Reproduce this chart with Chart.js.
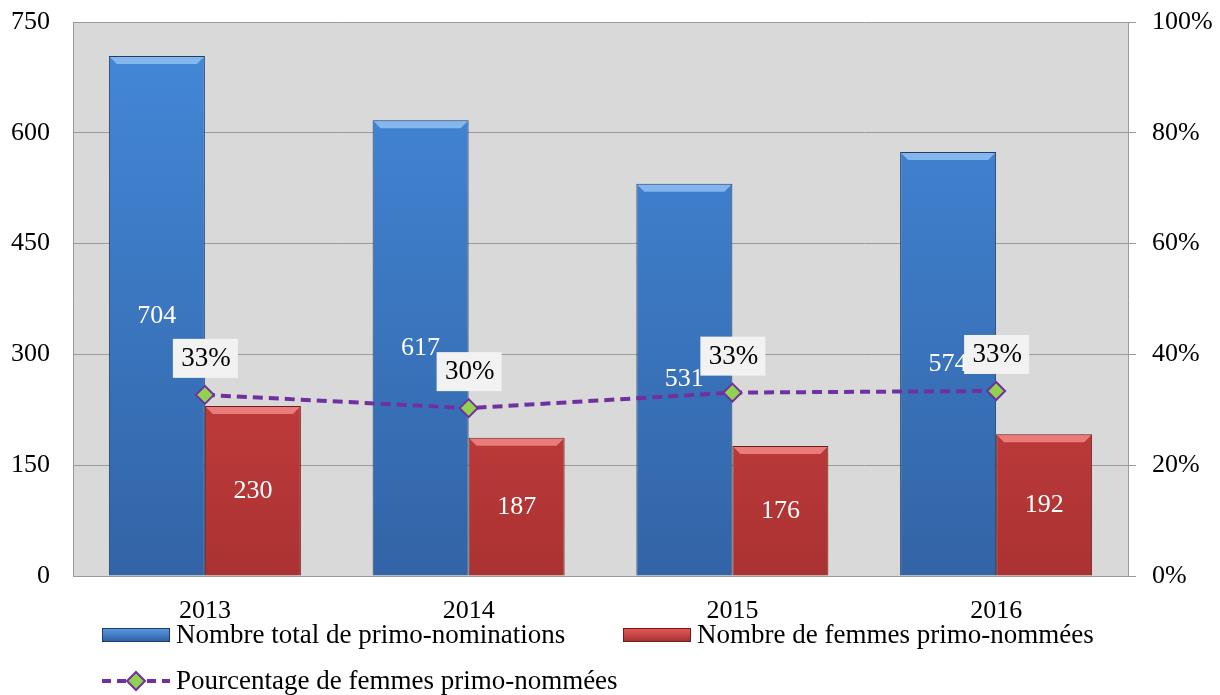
<!DOCTYPE html>
<html>
<head>
<meta charset="utf-8">
<script src="https://cdn.jsdelivr.net/npm/chart.js@4/dist/chart.umd.min.js"></script>
<style>
  html, body { margin: 0; padding: 0; background: #fff; }
  #wrap { width: 1220px; height: 695px; position: relative; }
</style>
</head>
<body>
<div id="wrap"><canvas id="myChart" width="1220" height="695"></canvas></div>
<script>
// donnees du graphique
const annees = ["2013", "2014", "2015", "2016"];
const totalNominations = [704, 617, 531, 574];
const femmesNommees = [230, 187, 176, 192];
const pourcentageFemmes = [32.7, 30.3, 33.1, 33.4];
const ticksGauche = [0, 150, 300, 450, 600, 750];
const ticksDroite = [0, 20, 40, 60, 80, 100];
const nomsSeries = ["Nombre total de primo-nominations", "Nombre de femmes primo-nommées", "Pourcentage de femmes primo-nommées"];

const police = "'Liberation Serif', 'Times New Roman', serif";
const gris = "#9a9a9a";

function degrade(ctx, haut, bas) {
  const area = ctx.chart.chartArea;
  if (!area) return haut;
  const g = ctx.chart.ctx.createLinearGradient(0, area.top, 0, area.bottom);
  g.addColorStop(0, haut);
  g.addColorStop(1, bas);
  return g;
}

// fond gris de la zone de trace
const fondPlugin = {
  id: "fond",
  beforeDraw(chart) {
    const { ctx, chartArea: a } = chart;
    ctx.save();
    ctx.fillStyle = "#d9d9d9";
    ctx.fillRect(a.left, a.top, a.right - a.left, a.bottom - a.top);
    ctx.restore();
  }
};

// biseau en haut des barres + etiquettes
const etiquettesPlugin = {
  id: "etiquettes",
  afterDatasetsDraw(chart) {
    const ctx = chart.ctx;
    const couleursBiseau = ["rgba(150,195,245,0.8)", "rgba(245,140,140,0.8)"];
    [0, 1].forEach(i => {
      chart.getDatasetMeta(i).data.forEach((bar, j) => {
        const l = bar.x - bar.width / 2, r = bar.x + bar.width / 2, t = bar.y;
        ctx.save();
        ctx.fillStyle = couleursBiseau[i];
        ctx.beginPath();
        ctx.moveTo(l + 1, t + 1);
        ctx.lineTo(r - 1, t + 1);
        ctx.lineTo(r - 8, t + 8);
        ctx.lineTo(l + 8, t + 8);
        ctx.closePath();
        ctx.fill();
        ctx.fillStyle = "#fff";
        ctx.font = "26px " + police;
        ctx.textAlign = "center";
        ctx.textBaseline = "middle";
        const valeur = chart.data.datasets[i].data[j];
        ctx.fillText(String(valeur), bar.x, (bar.y + bar.base) / 2);
        ctx.restore();
      });
    });
  },
  afterDraw(chart) {
    const ctx = chart.ctx;
    // etiquettes des pourcentages
    chart.getDatasetMeta(2).data.forEach((pt, j) => {
      const v = chart.data.datasets[2].data[j];
      ctx.save();
      ctx.fillStyle = "#f2f2f2";
      ctx.fillRect(pt.x - 32, pt.y - 56, 65, 39);
      ctx.fillStyle = "#000";
      ctx.font = "27px " + police;
      ctx.textAlign = "center";
      ctx.textBaseline = "middle";
      ctx.fillText(Math.round(v) + "%", pt.x + 1, pt.y - 36);
      ctx.restore();
    });
    // legende
    ctx.save();
    ctx.font = "27px " + police;
    ctx.textBaseline = "middle";
    const cases = [
      { x: 102, y: 635, haut: "#5b9be6", bas: "#2c5f9e", bord: "#1f3d66" },
      { x: 623, y: 635, haut: "#ea5a5a", bas: "#a32f2f", bord: "#6b1d1d" }
    ];
    cases.forEach((c, i) => {
      const g = ctx.createLinearGradient(0, c.y - 7, 0, c.y + 7);
      g.addColorStop(0, c.haut);
      g.addColorStop(1, c.bas);
      ctx.fillStyle = g;
      ctx.fillRect(c.x, c.y - 7, 68, 14);
      ctx.strokeStyle = c.bord;
      ctx.lineWidth = 1;
      ctx.strokeRect(c.x + 0.5, c.y - 6.5, 67, 13);
      ctx.fillStyle = "#000";
      ctx.fillText(nomsSeries[i], c.x + 74, c.y + 1);
    });
    const ly = 681;
    ctx.strokeStyle = "#7030a0";
    ctx.lineWidth = 4;
    ctx.setLineDash([9, 6]);
    ctx.beginPath();
    ctx.moveTo(102, ly);
    ctx.lineTo(170, ly);
    ctx.stroke();
    ctx.setLineDash([]);
    ctx.fillStyle = "#92d050";
    ctx.lineWidth = 2;
    ctx.beginPath();
    ctx.moveTo(136, ly - 9);
    ctx.lineTo(145, ly);
    ctx.lineTo(136, ly + 9);
    ctx.lineTo(127, ly);
    ctx.closePath();
    ctx.fill();
    ctx.stroke();
    ctx.fillStyle = "#000";
    ctx.fillText(nomsSeries[2], 176, ly + 1);
    ctx.restore();
  }
};

// on enleve la marge automatique des etiquettes pour fixer la zone de trace
function ajusteAxeY(largeur) {
  return s => {
    s.width = largeur;
    s.paddingTop = 0;
    s.paddingBottom = 0;
  };
}

const config = {
  type: "bar",
  data: {
    labels: annees,
    datasets: [
      {
        label: nomsSeries[0],
        data: totalNominations,
        backgroundColor: ctx => degrade(ctx, "#4489da", "#3264a6"),
        borderColor: "#1f3d66",
        borderWidth: 1,
        yAxisID: "y",
        order: 2
      },
      {
        label: nomsSeries[1],
        data: femmesNommees,
        backgroundColor: ctx => degrade(ctx, "#e84c4c", "#ab3232"),
        borderColor: "#6b1d1d",
        borderWidth: 1,
        yAxisID: "y",
        order: 2
      },
      {
        type: "line",
        label: nomsSeries[2],
        data: pourcentageFemmes,
        borderColor: "#7030a0",
        borderWidth: 4,
        borderDash: [10, 6],
        pointStyle: "rectRot",
        pointRadius: 9,
        pointBackgroundColor: "#92d050",
        pointBorderColor: "#7030a0",
        pointBorderWidth: 2,
        tension: 0,
        yAxisID: "y1",
        order: 0
      }
    ]
  },
  options: {
    responsive: false,
    animation: false,
    layout: { padding: { top: 22, bottom: 0, left: 0, right: 0 } },
    datasets: { bar: { barPercentage: 1, categoryPercentage: 0.728 } },
    plugins: { legend: { display: false }, tooltip: { enabled: false } },
    scales: {
      x: {
        grid: { display: false },
        border: { display: true, color: gris, width: 1 },
        ticks: { color: "#000", font: { family: police, size: 26 }, padding: 12 },
        afterFit: s => { s.height = 119; s.paddingLeft = 0; s.paddingRight = 0; }
      },
      y: {
        position: "left",
        min: 0,
        max: 750,
        afterBuildTicks: s => { s.ticks = ticksGauche.map(v => ({ value: v })); },
        grid: { color: gris, lineWidth: 1, drawTicks: false },
        border: { display: true, color: gris },
        ticks: { color: "#000", font: { family: police, size: 26 }, padding: 23 },
        afterFit: ajusteAxeY(73)
      },
      y1: {
        position: "right",
        min: 0,
        max: 100,
        afterBuildTicks: s => { s.ticks = ticksDroite.map(v => ({ value: v })); },
        grid: { drawOnChartArea: false, color: gris, tickLength: 8 },
        border: { display: true, color: gris },
        ticks: { color: "#000", font: { family: police, size: 26 }, padding: 16, callback: v => v + "%" },
        afterFit: ajusteAxeY(92)
      }
    }
  },
  plugins: [fondPlugin, etiquettesPlugin]
};

new Chart(document.getElementById("myChart"), config);
</script>
</body>
</html>
